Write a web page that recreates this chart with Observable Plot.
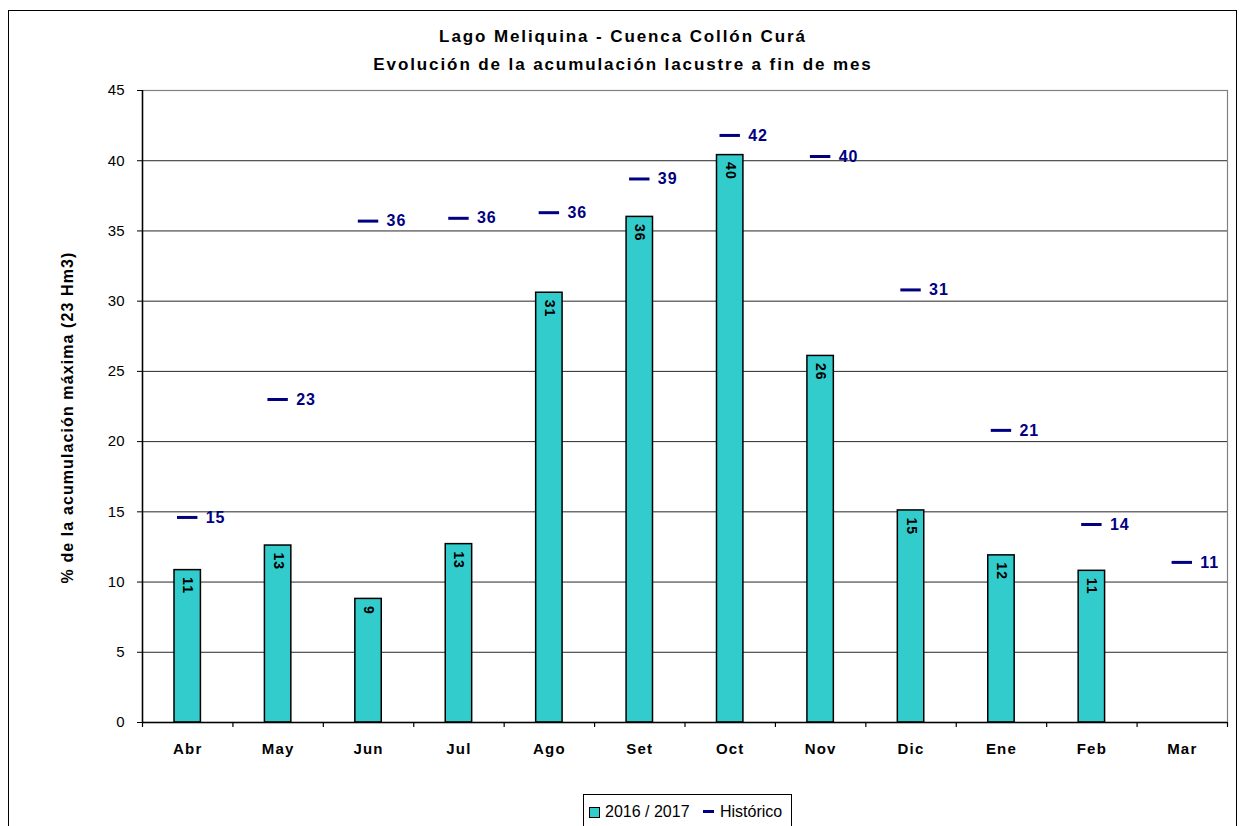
<!DOCTYPE html>
<html>
<head>
<meta charset="utf-8">
<script src="https://cdn.jsdelivr.net/npm/d3@7"></script>
<script src="https://cdn.jsdelivr.net/npm/@observablehq/plot@0.6"></script>
<style>
  html, body { margin: 0; padding: 0; background: #fff; overflow: hidden; }
  body { width: 1239px; height: 826px; position: relative; font-family: "Liberation Sans", Arial, sans-serif; }
  #frame { position: absolute; left: 8px; top: 10px; width: 1229px; height: 840px; border: 1.5px solid #000; box-sizing: border-box; }
  #chart { position: absolute; left: 0; top: 0; }
  .title { position: absolute; left: 8px; width: 1230px; text-align: center; font-weight: bold; font-size: 17px; letter-spacing: 1.9px; line-height: 20px; color: #000; }
  #legend { position: absolute; left: 583px; top: 794px; width: 209px; height: 50px; border: 1px solid #000; box-sizing: border-box; background: #fff; font-size: 16px; line-height: 18px; }
  #legend .sw { position: absolute; left: 5px; top: 12px; width: 9px; height: 9px; background: #33CCCC; border: 1px solid #000; }
  #legend .t1 { position: absolute; left: 21px; top: 8px; }
  #legend .dash { position: absolute; left: 119px; top: 15px; width: 11px; height: 3px; background: #000080; }
  #legend .t2 { position: absolute; left: 136px; top: 8px; }
  text[aria-label="ytitle"] { letter-spacing: 1.1px; }
  text[aria-label="barlabel"] { letter-spacing: 1px; }
  text[aria-label="histlabel"] { letter-spacing: 1px; }
  g[aria-label="x-axis tick label"] text { letter-spacing: 1.2px; }
</style>
</head>
<body>
<div id="frame"></div>
<div id="chart"></div>
<div class="title" style="top:27px">Lago Meliquina - Cuenca Collón Curá</div>
<div class="title" style="top:55px">Evolución de la acumulación lacustre a fin de mes</div>
<div id="legend"><div class="sw"></div><span class="t1">2016 / 2017</span><div class="dash"></div><span class="t2">Histórico</span></div>
<script>
const months = ["Abr", "May", "Jun", "Jul", "Ago", "Set", "Oct", "Nov", "Dic", "Ene", "Feb", "Mar"];
const actual = [10.85, 12.6, 8.8, 12.7, 30.6, 36.0, 40.4, 26.1, 15.1, 11.9, 10.8, null];
const historico = [14.6, 23.0, 35.7, 35.9, 36.3, 38.7, 41.8, 40.3, 30.8, 20.8, 14.1, 11.4];
const yTicks = [0, 5, 10, 15, 20, 25, 30, 35, 40, 45];
const yTitle = "% de la acumulación máxima (23 Hm3)";

const barData = months.map((m, i) => ({month: m, value: actual[i]})).filter(d => d.value != null);
const histData = months.map((m, i) => ({month: m, value: historico[i]}));

const W = 1239, H = 826, mL = 142, mR = 12, mT = 90, mB = 104;
const bw = (W - mL - mR) / months.length;
const tickLen = 5 * 45 / (H - mT - mB); // 5px expressed in y units, for tick marks below the axis
const fontFam = "'Liberation Sans', Arial, sans-serif";

const plot = Plot.plot({
  width: W,
  height: H,
  marginLeft: mL,
  marginRight: mR,
  marginTop: mT,
  marginBottom: mB,
  style: {fontFamily: fontFam, background: "transparent", overflow: "visible"},
  x: {type: "band", domain: months, padding: 0, round: false},
  y: {domain: [0, 45]},
  marks: [
    Plot.gridY(yTicks.filter(t => t > 0 && t < 45), {stroke: "#000", strokeOpacity: 0.85}),
    Plot.frame({stroke: "#808080", strokeWidth: 1.2}),
    Plot.barY(barData, {x: "month", y: "value", fill: "#33CCCC", stroke: "#000", strokeWidth: 1.5, insetLeft: 32, insetRight: 32}),
    Plot.text(barData, {x: "month", y: "value", text: d => String(Math.round(d.value)), rotate: 90, textAnchor: "start", lineAnchor: "middle", dy: 7, fontWeight: "bold", fontSize: 14, fill: "#000", ariaLabel: () => "barlabel"}),
    Plot.tickY(histData, {x: "month", y: "value", stroke: "#000080", strokeWidth: 3, insetLeft: 35, insetRight: 35}),
    Plot.text(histData, {x: "month", y: "value", text: d => String(Math.round(d.value)), textAnchor: "start", dx: 18, fontWeight: "bold", fontSize: 16, fill: "#000080", ariaLabel: () => "histlabel"}),
    Plot.ruleY([0], {stroke: "#000", strokeWidth: 1.5}),
    Plot.ruleX(months, {x: d => d, dx: -bw / 2, y1: 0, y2: -tickLen, stroke: "#000", strokeWidth: 1.2}),
    Plot.ruleX(months.slice(-1), {x: d => d, dx: bw / 2, y1: 0, y2: -tickLen, stroke: "#000", strokeWidth: 1.2}),
    Plot.ruleX(months.slice(0, 1), {x: d => d, dx: -bw / 2, stroke: "#000", strokeWidth: 1.5}),
    Plot.axisY({ticks: yTicks, tickSize: 5, tickPadding: 13, fontSize: 15, label: null, stroke: "#000"}),
    Plot.axisX({tickSize: 0, tickPadding: 21, fontSize: 15, fontWeight: "bold", label: null}),
    Plot.text([yTitle], {frameAnchor: "left", textAnchor: "middle", dx: -75, dy: 11, rotate: -90, fontWeight: "bold", fontSize: 16, fill: "#000", ariaLabel: () => "ytitle"})
  ]
});
document.getElementById("chart").appendChild(plot);
</script>
</body>
</html>
